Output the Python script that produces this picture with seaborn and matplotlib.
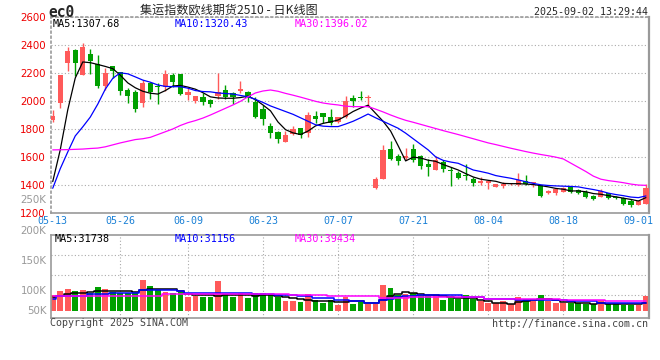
import numpy as np
import pandas as pd
import matplotlib
matplotlib.use('Agg')
import matplotlib.pyplot as plt
import seaborn as sns

### data (80 trading days, 05-13 .. 09-02)
opens = [1864, 1988, 2275, 2366, 2187, 2337, 2266, 2110, 2251, 2206,
         2079, 2068, 1988, 2131, 2110, 2103, 2187, 2194, 2044, 2003,
         2031, 2005, 2036, 2079, 2060, 2074, 2068, 1996, 1941, 1822,
         1781, 1709, 1764, 1805, 1774, 1893, 1912, 1884, 1852, 1888,
         2020, 2031, 2020, 1375, 1442, 1657, 1609, 1595, 1657, 1609,
         1549, 1506, 1566, 1505, 1487, 1465, 1442, 1411, 1411, 1387,
         1394, 1404, 1399, 1428, 1411, 1399, 1339, 1344, 1351, 1383,
         1363, 1351, 1320, 1315, 1339, 1315, 1303, 1287, 1256, 1263]
highs = [1936, 2190, 2389, 2370, 2416, 2371, 2330, 2235, 2253, 2208,
         2092, 2079, 2151, 2139, 2127, 2223, 2204, 2196, 2092, 2036,
         2056, 2012, 2204, 2115, 2068, 2146, 2074, 2027, 1972, 1845,
         1784, 1788, 1822, 1807, 1924, 1928, 1914, 1941, 1888, 2036,
         2044, 2072, 2044, 1459, 1686, 1717, 1621, 1662, 1690, 1611,
         1583, 1607, 1578, 1530, 1499, 1549, 1454, 1454, 1432, 1406,
         1423, 1416, 1487, 1470, 1418, 1401, 1363, 1375, 1383, 1392,
         1368, 1363, 1325, 1368, 1342, 1318, 1315, 1296, 1290, 1409]
lows = [1852, 1948, 2218, 2180, 2187, 2194, 2092, 2079, 2163, 2044,
        1984, 1920, 1960, 2012, 1979, 2074, 2103, 2044, 2008, 1984,
        1972, 1960, 2012, 2012, 1979, 2056, 1996, 1877, 1829, 1738,
        1702, 1709, 1757, 1733, 1745, 1845, 1841, 1829, 1845, 1877,
        1960, 2008, 1960, 1368, 1442, 1578, 1542, 1578, 1566, 1511,
        1464, 1506, 1494, 1392, 1440, 1435, 1392, 1399, 1368, 1383,
        1375, 1399, 1392, 1399, 1383, 1315, 1334, 1327, 1346, 1339,
        1334, 1303, 1291, 1311, 1298, 1298, 1256, 1239, 1254, 1263]
closes = [1893, 2187, 2359, 2275, 2384, 2289, 2110, 2199, 2218, 2074,
          2039, 1941, 2127, 2068, 2103, 2192, 2139, 2051, 2068, 2036,
          1996, 1977, 2066, 2027, 2031, 2089, 2020, 1884, 1870, 1769,
          1728, 1757, 1798, 1757, 1900, 1872, 1888, 1841, 1884, 2001,
          2003, 2024, 2031, 1440, 1650, 1585, 1573, 1607, 1578, 1535,
          1530, 1578, 1514, 1500, 1447, 1461, 1416, 1428, 1428, 1406,
          1409, 1416, 1434, 1404, 1418, 1320, 1358, 1368, 1375, 1351,
          1339, 1315, 1296, 1358, 1303, 1303, 1263, 1256, 1287, 1380]

ma5 = [1423, 1650, 1936, 2165, 2280, 2275, 2262, 2248, 2232, 2185,
       2130, 2095, 2070, 2056, 2050, 2075, 2108, 2112, 2100, 2085,
       2060, 2030, 2022, 2020, 2020, 2025, 2035, 2010, 1972, 1930,
       1850, 1795, 1772, 1760, 1785, 1822, 1840, 1851, 1864, 1892,
       1925, 1950, 1970, 1912, 1855, 1785, 1680, 1571, 1598, 1592,
       1576, 1568, 1545, 1526, 1506, 1480, 1456, 1440, 1432, 1425,
       1410, 1408, 1408, 1405, 1402, 1394, 1385, 1374, 1368, 1356,
       1356, 1350, 1337, 1332, 1322, 1314, 1304, 1295, 1284, 1308]
ma10 = [1375, 1515, 1635, 1750, 1815, 1885, 1978, 2085, 2163, 2202,
        2195, 2173, 2150, 2135, 2115, 2105, 2103, 2103, 2092, 2075,
        2068, 2066, 2058, 2054, 2050, 2040, 2031, 2012, 1990, 1965,
        1945, 1925, 1905, 1880, 1855, 1830, 1820, 1817, 1817, 1835,
        1855, 1880, 1907, 1880, 1855, 1830, 1805, 1770, 1730, 1690,
        1650, 1600, 1575, 1563, 1554, 1530, 1506, 1495, 1483, 1466,
        1456, 1447, 1435, 1422, 1410, 1400, 1395, 1392, 1390, 1388,
        1385, 1375, 1366, 1355, 1340, 1330, 1322, 1312, 1308, 1320]
ma30 = [1650, 1651, 1652, 1654, 1656, 1660, 1663, 1672, 1686, 1700,
        1712, 1724, 1730, 1740, 1760, 1780, 1800, 1825, 1845, 1860,
        1878, 1900, 1924, 1948, 1972, 1998, 2030, 2058, 2072, 2079,
        2070, 2055, 2042, 2028, 2013, 1998, 1986, 1978, 1972, 1963,
        1960, 1960, 1960, 1942, 1922, 1900, 1880, 1862, 1848, 1833,
        1818, 1803, 1788, 1774, 1760, 1745, 1730, 1715, 1700, 1688,
        1675, 1662, 1650, 1638, 1627, 1617, 1608, 1598, 1585, 1555,
        1525, 1495, 1462, 1440, 1430, 1423, 1415, 1405, 1398, 1396]

volume = [65600, 80800, 90200, 80800, 86100, 71800, 98400, 90200, 75900, 71800,
          71800, 73800, 125900, 101300, 84000, 77900, 73800, 77900, 57000, 61500,
          57000, 57000, 123000, 66400, 57000, 71800, 52500, 70500, 71800, 68500,
          54500, 39800, 39800, 36100, 66400, 43000, 30800, 43000, 22600, 57400,
          28700, 35700, 28700, 28700, 106600, 93000, 63100, 69700, 73800, 63100,
          60300, 63100, 45100, 56200, 46700, 63100, 46700, 39800, 32800, 32800,
          38500, 28700, 56200, 46700, 38500, 63100, 38500, 32800, 32800, 32800,
          32800, 28700, 28700, 42600, 28700, 28700, 24600, 24600, 24600, 60300]
vol_ma5 = [56000, 60000, 68000, 74000, 74000, 78000, 80000, 80000, 80000, 80000,
           80000, 76000, 86000, 88000, 88000, 88000, 88000, 80000, 70000, 63000,
           63000, 63000, 61000, 66000, 66000, 66000, 66000, 61000, 63000, 63000,
           61000, 56000, 52000, 47000, 42000, 41000, 39000, 38000, 36000, 36000,
           38000, 38000, 33000, 33000, 42600, 60000, 70000, 76700, 74000, 70000,
           66000, 66000, 60000, 56000, 52000, 52000, 50000, 43000, 38500, 33000,
           33000, 29000, 36000, 38000, 43000, 47000, 47000, 43000, 36000, 36000,
           33000, 33000, 29000, 33000, 29000, 29000, 29000, 27000, 27000, 31700]
vol_ma10 = [49000, 60000, 60000, 60000, 60000, 70000, 70000, 70000, 73800, 73800,
            73800, 73800, 83600, 83600, 83600, 83600, 83600, 79500, 74000, 74000,
            74000, 74000, 74000, 74000, 74000, 74000, 74000, 70000, 70000, 70000,
            66000, 66000, 66000, 59000, 59000, 52000, 52000, 52000, 42000, 42000,
            38000, 38000, 33000, 33000, 43000, 47000, 56000, 60000, 60000, 63000,
            63000, 63000, 63000, 63000, 63000, 58000, 58000, 58000, 47000, 47000,
            47000, 47000, 43000, 43000, 43000, 43000, 43000, 43000, 43000, 38500,
            38500, 38500, 38500, 33000, 33000, 33000, 33000, 33000, 31000, 31200]
vol_ma30 = [60000, 60000, 60000, 60000, 60000, 60000, 60000, 60000, 60000, 60000,
            60000, 60000, 60000, 60000, 60000, 67000, 67000, 67000, 67000, 67000,
            67000, 67000, 67000, 67000, 67000, 67000, 67000, 70000, 70000, 70000,
            70000, 70000, 66000, 66000, 66000, 66000, 66000, 60000, 60000, 60000,
            60000, 60000, 60000, 60000, 52000, 52000, 52000, 52000, 56000, 56000,
            56000, 56000, 56000, 56000, 56000, 56000, 56000, 56000, 49000, 49000,
            49000, 49000, 47000, 47000, 47000, 47000, 47000, 47000, 43000, 43000,
            43000, 43000, 43000, 43000, 39800, 39800, 39800, 39400, 39400, 39400]

date_tick_pos = [0, 9, 18, 28, 38, 48, 58, 68, 78]
date_tick_lab = ['05-13', '05-26', '06-09', '06-23', '07-07', '07-21', '08-04', '08-18', '09-01']
price_ticks = [1200, 1400, 1600, 1800, 2000, 2200, 2400, 2600]
vol_labels = ['250K', '200K', '150K', '100K', '50K']

title = '集运指数欧线期货2510 - 日K线图'
symbol = 'ec0'
stamp = '2025-09-02 13:29:44'
ma_price_text = ['MA5:1307.68', 'MA10:1320.43', 'MA30:1396.02']
ma_vol_text = ['MA5:31738', 'MA10:31156', 'MA30:39434']

### styling
RED, GREEN = '#ff5a5a', '#00a000'
MA_COLORS = ['black', '#0000ff', '#ff00ff']
GRID = '#aaaaaa'
DOT = (0, (1, 2))
MONO = 'DejaVu Sans Mono'

sns.set_style('white')
plt.rcParams['font.family'] = ['DejaVu Sans']

df = pd.DataFrame({'idx': np.arange(len(closes)), 'open': opens, 'high': highs,
                   'low': lows, 'close': closes, 'volume': volume})
df['dir'] = np.where(df['close'] >= df['open'], 'up', 'down')
colors = df['dir'].map({'up': RED, 'down': GREEN})

W, H = 660, 360
fx = lambda px: px / W
fy = lambda py: 1 - py / H

fig = plt.figure(figsize=(6.6, 3.6), dpi=100)
fig.patch.set_facecolor('white')
ax = fig.add_axes([fx(50.7), fy(212.7), 598.6 / W, 195.4 / H])
axv = fig.add_axes([fx(50.7), fy(318.3), 598.6 / W, 83.6 / H])

### price panel
ax.vlines(df['idx'], df['low'], df['high'], colors=colors, lw=1.0, zorder=2)
body_low = np.minimum(df['open'], df['close'])
body_h = np.maximum((df['close'] - df['open']).abs(), 6)
ax.bar(df['idx'], body_h, bottom=body_low, width=0.7, color=colors, linewidth=0, zorder=3)
for ma, c in zip([ma5, ma10, ma30], MA_COLORS):
    sns.lineplot(x=df['idx'], y=ma, color=c, lw=0.9, ax=ax, zorder=4)

ax.set_xlim(-0.27, 79.45)
ax.set_ylim(1200, 2600)
ax.set_yticks(price_ticks)
ax.set_xticks(date_tick_pos)
ax.set_xticklabels(date_tick_lab, family=MONO)
ax.set_xticks(date_tick_pos[1:-1], minor=True)
ax.tick_params(axis='y', length=0, pad=3.4, labelsize=7.4, labelcolor='#ee0000')
ax.tick_params(axis='x', which='both', length=0, pad=2.6, labelsize=7.2, labelcolor='#1a80d6')
ax.grid(False)
ax.grid(which='major', axis='y', color=GRID, linestyle=DOT, lw=0.8)
ax.grid(which='minor', axis='x', color=GRID, linestyle=DOT, lw=0.8)
ax.set_axisbelow(True)
ax.set_xlabel('')
ax.set_ylabel('')

### volume panel
sns.barplot(data=df, x='idx', y='volume', hue='dir', palette={'up': RED, 'down': GREEN},
            native_scale=True, dodge=False, width=0.76, errorbar=None, saturation=1,
            legend=False, linewidth=0, ax=axv, zorder=2)
for ma, c in zip([vol_ma5, vol_ma10, vol_ma30], MA_COLORS):
    sns.lineplot(x=df['idx'], y=ma, color=c, lw=1.1, drawstyle='steps-mid', ax=axv, zorder=4)

axv.set_xlim(-0.27, 79.45)
axv.set_ylim(-31200, 311600)
axv.set_xticks([])
axv.set_yticks([])
axv.set_xticks(date_tick_pos[1:-1], minor=True)
axv.set_yticks([63000, 145000, 227000], minor=True)
axv.tick_params(which='both', length=0, labelbottom=False, labelleft=False)
axv.grid(False)
axv.grid(which='minor', color=GRID, linestyle=DOT, lw=0.8)
axv.set_axisbelow(True)
axv.set_xlabel('')
axv.set_ylabel('')

for a in (ax, axv):
    for s in a.spines.values():
        s.set_color('#999999')
        s.set_linewidth(1.2)
    a.spines['right'].set_linewidth(1.6)
ax.spines['top'].set_linestyle(DOT)
ax.spines['left'].set_linestyle(DOT)

### texts
for lab, py in zip(vol_labels, [200, 230.7, 260.7, 290.7, 310.7]):
    fig.text(fx(46.5), fy(py), lab, ha='right', va='center', color='#999999', fontsize=7.4)

fig.text(fx(48.5), fy(12.2), symbol, ha='left', va='center', family=MONO,
         fontweight='bold', fontsize=10.5)
fig.text(fx(140), fy(10), title, ha='left', va='center', fontsize=8.7,
         family=['Noto Sans CJK SC', 'DejaVu Sans'])
fig.text(fx(648), fy(11.7), stamp, ha='right', va='center', family=MONO, fontsize=7.2)

for txt, px, c in zip(ma_price_text, [53, 174.3, 295], MA_COLORS):
    fig.text(fx(px), fy(23.7), txt, ha='left', va='center', family=MONO, fontsize=7.3, color=c)
for txt, px, c in zip(ma_vol_text, [54.3, 174.3, 295], MA_COLORS):
    fig.text(fx(px), fy(238.5), txt, ha='left', va='center', family=MONO, fontsize=7.3, color=c)

fig.text(fx(50), fy(323.5), 'Copyright 2025 SINA.COM', ha='left', va='center',
         family=MONO, fontsize=7.2, color='#444444')
fig.text(fx(648), fy(323.7), 'http://finance.sina.com.cn', ha='right', va='center',
         family=MONO, fontsize=7.2, color='#444444')

fig.savefig('out.png', dpi=100, facecolor='white')
